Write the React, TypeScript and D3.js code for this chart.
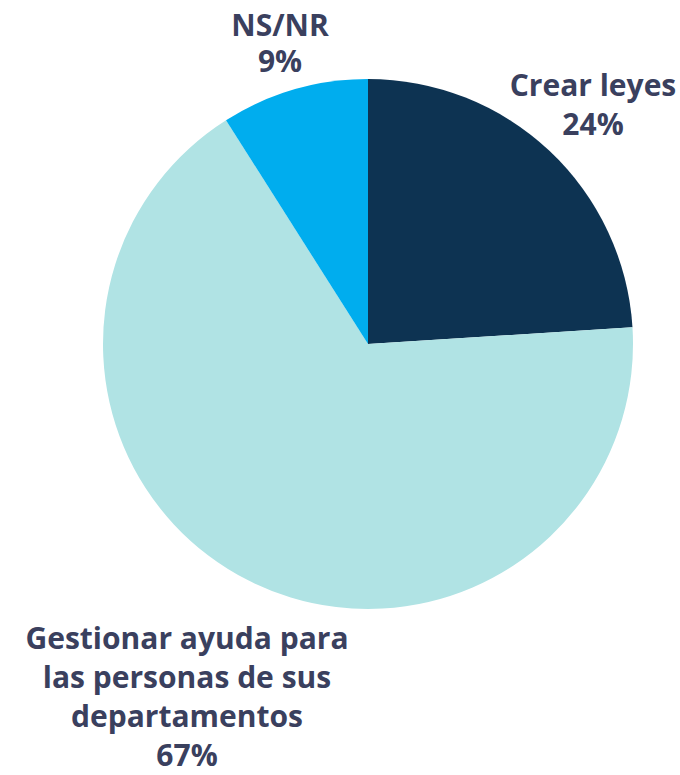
import React from "react";
import * as d3 from "d3";

const categories = ["Crear leyes", "Gestionar ayuda para las personas de sus departamentos", "NS/NR"];
const values = [24, 67, 9];
const colors = ["#0d3352", "#b0e3e4", "#00adee"];
const labelLines = [
  ["Crear leyes", "24%"],
  ["Gestionar ayuda para", "las personas de sus", "departamentos", "67%"],
  ["NS/NR", "9%"],
];

const W = 680;
const H = 775;
const cx = 368;
const cy = 344;
const R = 265;
// label anchor positions (first baseline) and line height
const labelPos = [
  { x: 593, y: 96, lh: 39 },
  { x: 187, y: 649, lh: 39 },
  { x: 280, y: 36, lh: 36 },
];

export default function App() {
  const pie = d3.pie<number>().sort(null).value((d) => d);
  const arcs = pie(values);
  const arc = d3.arc<d3.PieArcDatum<number>>().innerRadius(0).outerRadius(R);
  return (
    <svg width={W} height={H} style={{ position: "absolute", left: 0, top: 0 }}>
      <g transform={`translate(${cx},${cy})`}>
        {arcs.map((a, i) => (
          <path key={categories[i]} d={arc(a) || ""} fill={colors[i]} />
        ))}
      </g>
      {labelLines.map((lines, i) => (
        <text
          key={i}
          x={labelPos[i].x}
          y={labelPos[i].y}
          textAnchor="middle"
          fontFamily="'Open Sans', sans-serif"
          fontWeight={700}
          fontSize={30}
          fill="#3a405e"
        >
          {lines.map((l, j) => (
            <tspan key={j} x={labelPos[i].x} y={labelPos[i].y + j * labelPos[i].lh}>
              {l}
            </tspan>
          ))}
        </text>
      ))}
    </svg>
  );
}
